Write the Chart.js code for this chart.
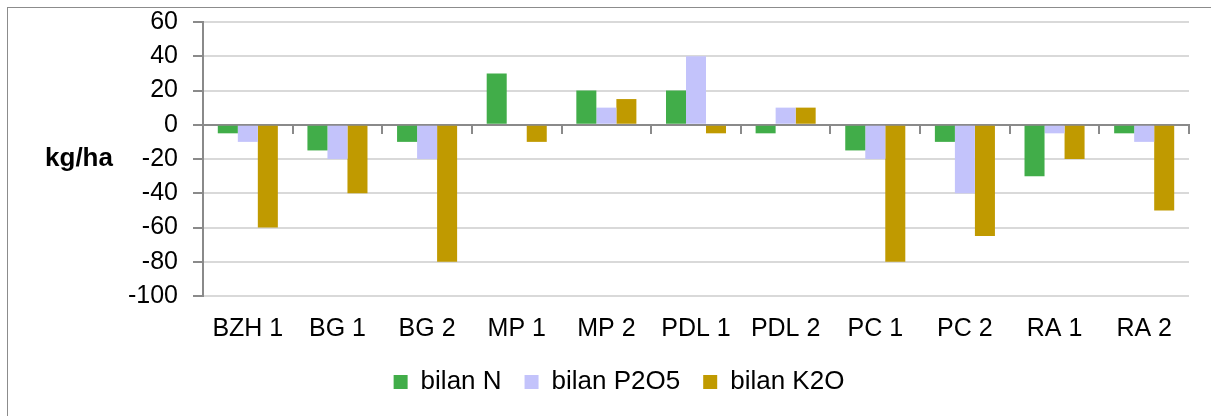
<!DOCTYPE html>
<html><head><meta charset="utf-8">
<script src="https://cdn.jsdelivr.net/npm/chart.js@4"></script>
<style>
html,body{margin:0;padding:0;background:#fff;overflow:hidden}
#wrap{position:relative;width:1211px;height:416px;overflow:hidden}
#frame{position:absolute;left:7px;top:7px;width:1400px;height:600px;border:1px solid #8c8c8c}
canvas{position:absolute;left:0;top:0}
</style></head><body>
<div id="wrap"><div id="frame"></div><canvas id="c" width="1211" height="416"></canvas></div>
<script>
const categories = ['BZH 1','BG 1','BG 2','MP 1','MP 2','PDL 1','PDL 2','PC 1','PC 2','RA 1','RA 2'];
const bilanN    = [-5, -15, -10, 30, 20, 20, -5, -15, -10, -30, -5];
const bilanP2O5 = [-10, -20, -20, 0, 10, 40, 10, -20, -40, -5, -10];
const bilanK2O  = [-60, -40, -80, -10, 15, -5, 10, -80, -65, -20, -50];
const seriesNames = ['bilan N', 'bilan P2O5', 'bilan K2O'];
const yTicks = [-100, -80, -60, -40, -20, 0, 20, 40, 60];
const yTitle = 'kg/ha';

const FONT = '"Liberation Sans", Arial, sans-serif';
const AXIS_GREY = '#8a8a8a';

const yTitlePlugin = {
  id: 'ytitle',
  afterDraw(chart) {
    const ctx = chart.ctx, a = chart.chartArea;
    ctx.save();
    ctx.font = 'bold 26px ' + FONT;
    ctx.fillStyle = '#000';
    ctx.textAlign = 'center';
    ctx.textBaseline = 'middle';
    ctx.fillText(yTitle, 79, (a.top + a.bottom) / 2);
    ctx.restore();
  }
};

new Chart(document.getElementById('c'), {
  type: 'bar',
  data: {
    labels: categories,
    datasets: [
      { label: seriesNames[0], data: bilanN, backgroundColor: '#41ad49', borderWidth: 0 },
      { label: seriesNames[1], data: bilanP2O5, backgroundColor: '#c3c3fb', borderWidth: 0 },
      { label: seriesNames[2], data: bilanK2O, backgroundColor: '#c09a00', borderWidth: 0 }
    ]
  },
  options: {
    responsive: false,
    animation: false,
    devicePixelRatio: 1,
    layout: { padding: { left: 49, right: 22, top: 22, bottom: 11 } },
    datasets: { bar: { categoryPercentage: 0.67, barPercentage: 1.0 } },
    plugins: {
      tooltip: { enabled: false },
      legend: {
        position: 'bottom',
        labels: { boxWidth: 14, boxHeight: 14, padding: 23, color: '#000', font: { size: 26, family: FONT } }
      }
    },
    scales: {
      x: {
        type: 'category', position: 'bottom', offset: true,
        grid: { display: false, drawTicks: false },
        border: { display: false },
        ticks: { color: '#000', font: { size: 25, family: FONT }, padding: 18, maxRotation: 0, autoSkip: false },
        afterFit(s) { s.height = 50; }
      },
      xz: {
        type: 'category', position: { y: 0 }, offset: true,
        grid: { display: true, drawOnChartArea: false, offset: true, drawTicks: true, tickLength: 8, color: AXIS_GREY, lineWidth: 2 },
        border: { display: true, color: AXIS_GREY, width: 2 },
        ticks: { display: false }
      },
      y: {
        type: 'linear', position: 'left', min: -100, max: 60,
        afterBuildTicks(s) { s.ticks = yTicks.map(v => ({ value: v })); },
        afterFit(s) { s.width = 154; s.paddingTop = 0; s.paddingBottom = 0; },
        grid: { color: c => (c.tick && c.tick.value === 0) ? AXIS_GREY : '#d9d9d9', lineWidth: 2, tickLength: 10, tickColor: AXIS_GREY },
        border: { color: AXIS_GREY, width: 2 },
        ticks: { color: '#000', font: { size: 25, family: FONT }, padding: 15 }
      }
    }
  },
  plugins: [yTitlePlugin]
});
</script>
</body></html>
